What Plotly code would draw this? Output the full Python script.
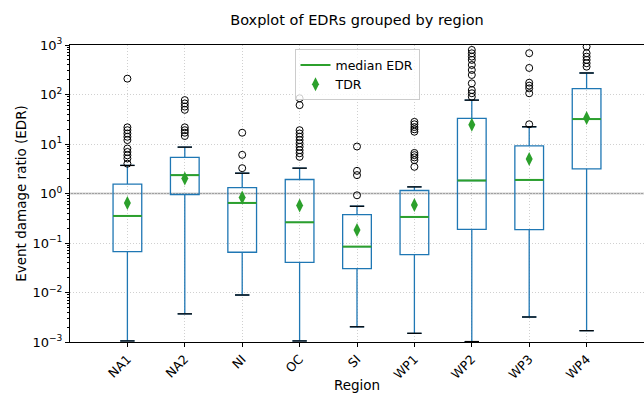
import plotly.graph_objects as go

# Region names in plotting order
regions = ["NA1", "NA2", "NI", "OC", "SI", "WP1", "WP2", "WP3", "WP4"]

# Box statistics of the event damage ratio (EDR) per region
whisker_low = [0.00105, 0.0037, 0.0089, 0.00105, 0.00203, 0.0015, 0.00102, 0.0032, 0.00169]
q1 = [0.067, 0.955, 0.065, 0.0407, 0.0303, 0.058, 0.189, 0.187, 3.15]
median_edr = [0.352, 2.35, 0.645, 0.262, 0.0845, 0.336, 1.83, 1.88, 31.9]
q3 = [1.54, 5.36, 1.32, 1.92, 0.376, 1.15, 33.0, 9.2, 131.0]
whisker_high = [3.69, 8.65, 2.57, 3.25, 0.553, 1.36, 77.0, 22.3, 272.0]

# Total damage ratio (TDR) per region
tdr = [0.645, 2.0, 0.83, 0.57, 0.183, 0.588, 24.5, 5.0, 33.4]

# Outlying EDR values per region
outliers = {
    "NA1": [209, 21.7, 19.0, 16.3, 14.0, 12.0, 8.1, 6.9, 5.9, 5.1, 4.0],
    "NA2": [77, 66, 57, 49, 21.7, 19.0, 16.9, 14.5],
    "NI": [16.9, 6.04, 3.25],
    "OC": [84, 61, 19.0, 16.3, 14.0, 12.0, 10.3, 8.8, 7.5, 6.5, 5.5],
    "SI": [8.9, 2.87, 2.35, 0.92],
    "WP1": [28, 25, 22, 19.8, 17.7, 6.6, 5.96, 5.36, 4.72, 3.46],
    "WP2": [795, 680, 582, 500, 395, 313, 248, 168, 123, 106, 90],
    "WP3": [683, 344, 173, 151, 133, 106, 25],
    "WP4": [929, 683, 582, 500, 428, 365],
}

# y-axis decades and their labels
decades = [-3, -2, -1, 0, 1, 2, 3]
decade_vals = [10.0 ** d for d in decades]
decade_text = ["10<sup>%s</sup>" % (str(d).replace("-", "\u2212")) for d in decades]
minor_vals = [k * 10.0 ** d for d in decades[:-1] for k in range(2, 10)]

pos = list(range(len(regions)))
box_w = 0.5
cap_w = 0.25

blue = "#1f77b4"
green = "#2ca02c"
font = "DejaVu Sans"
grid = dict(showgrid=True, gridcolor="#d0d0d0", griddash="1px,2px", gridwidth=1)

fig = go.Figure()

fig.add_trace(go.Box(
    x=pos, q1=q1, median=median_edr, q3=q3,
    lowerfence=whisker_low, upperfence=whisker_high,
    width=box_w, whiskerwidth=0.5, boxpoints=False,
    line=dict(color=blue, width=1.3), fillcolor="rgba(0,0,0,0)",
    showlegend=False, hoverinfo="skip",
))

# whisker caps in black
cx, cy = [], []
for i in pos:
    for v in (whisker_low[i], whisker_high[i]):
        cx += [i - cap_w / 2, i + cap_w / 2, None]
        cy += [v, v, None]
fig.add_trace(go.Scatter(x=cx, y=cy, mode="lines",
                         line=dict(color="black", width=1.3),
                         showlegend=False, hoverinfo="skip"))

# median lines in green
mx, my = [], []
for i in pos:
    mx += [i - box_w / 2, i + box_w / 2, None]
    my += [median_edr[i], median_edr[i], None]
fig.add_trace(go.Scatter(x=mx, y=my, mode="lines", name="median EDR",
                         line=dict(color=green, width=2)))

# outliers
ox, oy = [], []
for i, r in enumerate(regions):
    ox += [i] * len(outliers[r])
    oy += outliers[r]
fig.add_trace(go.Scatter(x=ox, y=oy, mode="markers", showlegend=False,
                         marker=dict(symbol="circle-open", size=7,
                                     color="black", line=dict(width=1))))

# TDR markers
fig.add_trace(go.Scatter(x=pos, y=tdr, mode="markers", name="TDR",
                         marker=dict(symbol="diamond-tall", size=10,
                                     color=green)))

# empty trace carrying the minor-tick axis
fig.add_trace(go.Scatter(x=[None], y=[None], yaxis="y2", showlegend=False,
                         hoverinfo="skip"))

# reference line at EDR = 1
fig.add_shape(type="line", xref="paper", x0=0, x1=1, yref="y", y0=1, y1=1,
              line=dict(color="#a0a0a0", width=1.5), layer="below")

fig.update_layout(
    width=644, height=393,
    margin=dict(l=70, r=0, t=45, b=51),
    plot_bgcolor="white", paper_bgcolor="white",
    font=dict(family=font, size=12, color="black"),
    title=dict(text="Boxplot of EDRs grouped by region", x=357 / 644,
               xanchor="center", y=1 - 20 / 393, yanchor="middle",
               font=dict(size=14.5)),
    legend=dict(x=0.5, xanchor="center", y=0.985, yanchor="top",
                bgcolor="rgba(255,255,255,0.8)", bordercolor="#cccccc",
                borderwidth=1, font=dict(size=12.5), tracegroupgap=0),
    xaxis=dict(
        range=[-1.0, 9.0], tickvals=pos, ticktext=regions, tickangle=-45,
        showline=True, linecolor="black", linewidth=1, mirror=True,
        ticks="outside", ticklen=4, tickcolor="black",
        zeroline=False, **grid,
        title=dict(text="Region", font=dict(size=13.5), standoff=2),
        tickfont=dict(size=12.5),
    ),
    yaxis=dict(
        type="log", range=[-3, 3],
        tickmode="array", tickvals=decade_vals, ticktext=decade_text,
        showline=True, linecolor="black", linewidth=1,
        ticks="outside", ticklen=4, tickcolor="black", **grid,
        title=dict(text="Event damage ratio (EDR)", font=dict(size=13.5),
                   standoff=2),
        tickfont=dict(size=13),
    ),
    yaxis2=dict(
        type="log", range=[-3, 3], overlaying="y", side="left",
        tickmode="array", tickvals=minor_vals, showticklabels=False,
        ticks="outside", ticklen=2.5, tickcolor="black",
        showgrid=False, showline=False, zeroline=False,
    ),
)

fig.write_html("out.html")
